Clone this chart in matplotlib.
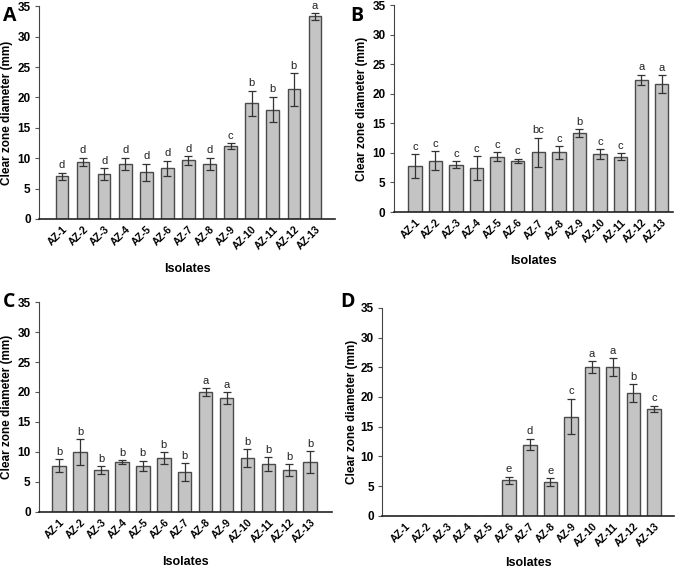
import matplotlib
matplotlib.use("Agg")
import matplotlib.pyplot as plt
import numpy as np

plt.rcParams['font.family'] = ['Liberation Sans', 'DejaVu Sans']

isolates = ["AZ-1", "AZ-2", "AZ-3", "AZ-4", "AZ-5", "AZ-6", "AZ-7",
            "AZ-8", "AZ-9", "AZ-10", "AZ-11", "AZ-12", "AZ-13"]

a_mean = [7.0, 9.4, 7.35, 9.05, 7.7, 8.3, 9.65, 9.05, 12.0, 19.0, 18.0, 21.3, 33.35]
a_err = [0.6, 0.65, 0.95, 1.0, 1.4, 1.25, 0.7, 1.0, 0.5, 2.1, 2.1, 2.65, 0.55]
a_let = ["d", "d", "d", "d", "d", "d", "d", "d", "c", "b", "b", "b", "a"]

b_mean = [7.75, 8.7, 8.0, 7.4, 9.35, 8.7, 10.1, 10.1, 13.4, 9.75, 9.35, 22.4, 21.7]
b_err = [2.0, 1.55, 0.55, 2.0, 0.8, 0.35, 2.5, 1.05, 0.65, 0.85, 0.6, 0.85, 1.5]
b_let = ["c", "c", "c", "c", "c", "c", "bc", "c", "b", "c", "c", "a", "a"]

c_mean = [7.7, 10.0, 7.0, 8.3, 7.7, 9.0, 6.65, 20.0, 19.0, 9.0, 8.0, 7.0, 8.3]
c_err = [1.1, 2.1, 0.65, 0.33, 0.83, 1.0, 1.5, 0.65, 1.0, 1.5, 1.15, 1.0, 1.85]
c_let = ["b", "b", "b", "b", "b", "b", "b", "a", "a", "b", "b", "b", "b"]

d_mean = [0, 0, 0, 0, 0, 6.0, 12.0, 5.7, 16.7, 25.0, 25.0, 20.65, 18.0]
d_err = [0, 0, 0, 0, 0, 0.6, 1.0, 0.65, 3.0, 1.0, 1.5, 1.45, 0.55]
d_let = ["", "", "", "", "", "e", "d", "e", "c", "a", "a", "b", "c"]

fig = plt.figure(figsize=(6.85, 5.7), dpi=100)

panels = [
    ("A", a_mean, a_err, a_let, [0.057, 0.616, 0.432, 0.373], (-1.09, 12.95), 0.60, -0.088, -0.207),
    ("B", b_mean, b_err, b_let, [0.575, 0.628, 0.407, 0.363], (-1.02, 12.53), 0.65, -0.093, -0.208),
    ("C", c_mean, c_err, c_let, [0.057, 0.102, 0.428, 0.368], (-0.96, 13.05), 0.65, -0.089, -0.210),
    ("D", d_mean, d_err, d_let, [0.558, 0.095, 0.426, 0.365], (-1.13, 12.97), 0.65, -0.082, -0.200),
]

label_pos = {"A": (0.004, 0.990), "B": (0.512, 0.990), "C": (0.004, 0.487), "D": (0.497, 0.487)}

for name, mean, err, let, rect, xl, bw, ylx, xly in panels:
    ax = fig.add_axes(rect)
    x = np.arange(len(isolates))
    ax.bar(x, mean, width=bw, color="#c4c4c4", edgecolor="#4a4a4a", linewidth=1.0, zorder=2)
    e = np.array(err)
    mask = e > 0
    ax.errorbar(x[mask], np.array(mean)[mask], yerr=e[mask], fmt="none",
                ecolor="#333333", elinewidth=0.9, capsize=3, capthick=0.9, zorder=3)
    for xi, m, ee, l in zip(x, mean, err, let):
        if l:
            ax.text(xi, m + ee + 0.4, l, ha="center", va="bottom", fontsize=8, color="#222222")
    ax.set_xlim(*xl)
    ax.set_ylim(0, 35)
    ax.set_yticks(range(0, 36, 5))
    ax.set_xticks(x)
    ax.set_xticklabels(isolates, rotation=45, ha="right", rotation_mode="anchor",
                       fontsize=7.5, fontweight="bold")
    for t in ax.get_yticklabels():
        t.set_fontsize(8.5)
        t.set_fontweight("bold")
    ax.tick_params(axis="x", length=0, pad=4)
    ax.tick_params(axis="y", length=3, width=0.8, color="#555555", pad=3)
    for s in ["top", "right"]:
        ax.spines[s].set_visible(False)
    ax.spines["left"].set_color("#444444")
    ax.spines["bottom"].set_color("#222222")
    ax.spines["bottom"].set_linewidth(1.2)
    ax.set_ylabel("Clear zone diameter (mm)", fontsize=8.5, fontweight="bold")
    ax.yaxis.set_label_coords(ylx, 0.5)
    ax.set_xlabel("Isolates", fontsize=9, fontweight="bold")
    ax.xaxis.set_label_coords(0.5, xly)
    lx, ly = label_pos[name]
    fig.text(lx, ly, name, fontsize=14, fontweight="bold", ha="left", va="top",
             family=["Open Sans", "DejaVu Sans"])

fig.savefig("out.png", dpi=100)
